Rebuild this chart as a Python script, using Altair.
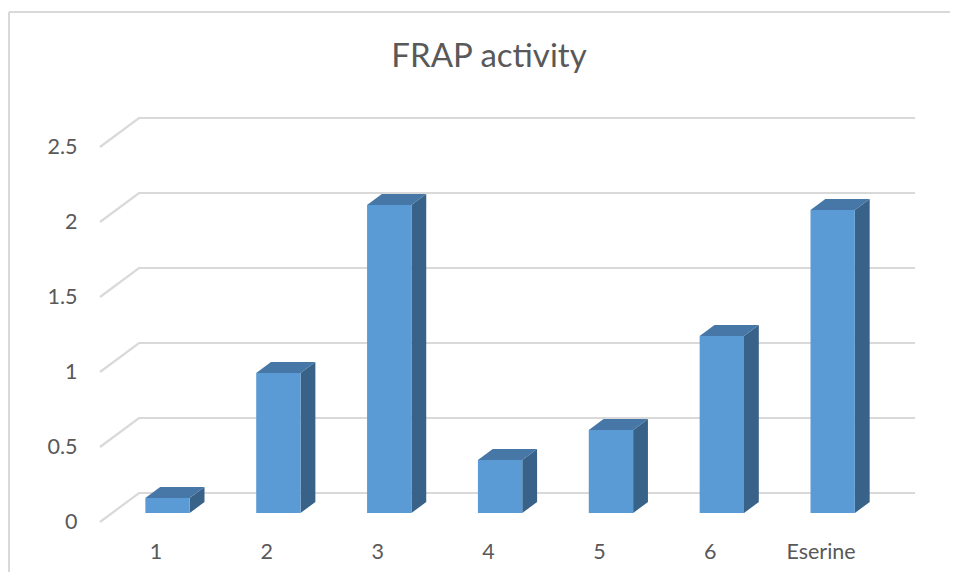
import altair as alt
import pandas as pd

CATEGORIES = ["1", "2", "3", "4", "5", "6", "Eserine"]
VALUES = [0.10, 0.933, 2.053, 0.353, 0.553, 1.18, 2.02]
TICKS = [0, 0.5, 1, 1.5, 2, 2.5]

# projection of the fake 3D box, in axis units
DEPTH_X = 0.3518
DEPTH_Y = 0.1933
BAR_NEAR = 0.31
BAR_FAR = 0.69
HALF = 0.2
XMIN, XMAX = -0.3298, 8.1673
YMIN, YMAX = -0.3333, 3.4267

FONT = "Lato"
TEXT = "#595959"

positions = list(range(1, len(CATEGORIES) + 1))
label_expr = "[" + ",".join(f"'{c}'" for c in CATEGORIES) + "][datum.value-1]"

xs = alt.Scale(domain=[XMIN, XMAX], range=[0, 942], nice=False, zero=False)
ys = alt.Scale(domain=[YMIN, YMAX], range=[564, 0], nice=False, zero=False)
x_axis = alt.Axis(
    values=positions, labelExpr=label_expr, grid=False, domain=False, ticks=False,
    orient="bottom", offset=-31, labelPadding=0, labelFont=FONT, labelFontSize=21.5,
    labelColor=TEXT, labelAngle=0, labelOverlap=False, labelBound=False, labelFlush=False)
y_axis = alt.Axis(
    values=TICKS, grid=False, domain=False, ticks=False, orient="left", offset=-69,
    labelPadding=0, labelFont=FONT, labelFontSize=21.5, labelColor=TEXT, labelOffset=0.5,
    labelOverlap=False, labelBound=False, labelFlush=False, format="~g")
X = alt.X("x:Q", scale=xs, title=None, axis=x_axis)
Y = alt.Y("y:Q", scale=ys, title=None, axis=y_axis)

grid = pd.DataFrame(
    [r for t in TICKS for r in (
        {"t": t, "o": 0, "x": 0.5, "y": t},
        {"t": t, "o": 1, "x": 0.5 + DEPTH_X, "y": t + DEPTH_Y},
        {"t": t, "o": 2, "x": 7.5 + DEPTH_X, "y": t + DEPTH_Y},
    )]
)

side, top, front = [], [], []
for p, v in zip(positions, VALUES):
    l = p - HALF + BAR_NEAR * DEPTH_X
    r = p + HALF + BAR_NEAR * DEPTH_X
    dx = (BAR_FAR - BAR_NEAR) * DEPTH_X
    y1 = BAR_NEAR * DEPTH_Y
    y2 = BAR_FAR * DEPTH_Y
    front.append({"x": l, "x2": r, "y": v + y1, "y2": y1})
    side += [
        {"c": p, "x": r, "y": v + y1, "y2": y1},
        {"c": p, "x": r + dx, "y": v + y2, "y2": y2},
    ]
    top += [
        {"c": p, "x": l, "y": v + y1, "y2": v + y1},
        {"c": p, "x": l + dx, "y": v + y2, "y2": v + y1},
        {"c": p, "x": r, "y": v + y2, "y2": v + y1},
        {"c": p, "x": r + dx, "y": v + y2, "y2": v + y2},
    ]

grid_layer = alt.Chart(grid).mark_line(color="#d9d9d9", strokeWidth=2.2).encode(
    x=X, y=Y, detail="t:N", order="o:Q"
)
side_layer = alt.Chart(pd.DataFrame(side)).mark_area(
    color="#386288", orient="vertical", interpolate="linear"
).encode(x=X, y=Y, y2="y2:Q", detail="c:N")
top_layer = alt.Chart(pd.DataFrame(top)).mark_area(
    color="#4677A6", orient="vertical", interpolate="linear"
).encode(x=X, y=Y, y2="y2:Q", detail="c:N")
front_layer = alt.Chart(pd.DataFrame(front)).mark_rect(color="#5B9BD5").encode(
    x=X, x2="x2:Q", y=Y, y2="y2:Q"
)

frame_left = alt.Chart(pd.DataFrame({"a": [0]})).mark_rule(color="#d9d9d9", strokeWidth=2).encode(
    x=alt.value(1), y=alt.value(4), y2=alt.value(564)
)
frame_top = alt.Chart(pd.DataFrame({"a": [0]})).mark_rule(color="#d9d9d9", strokeWidth=2).encode(
    x=alt.value(1), x2=alt.value(942), y=alt.value(4)
)

chart = alt.layer(
    grid_layer, side_layer, top_layer, front_layer, frame_left, frame_top
).properties(
    width=942,
    height=564,
    autosize=alt.AutoSizeParams(type="none"),
    padding=0,
    background="white",
    title=alt.TitleParams(
        "FRAP activity", font=FONT, fontSize=33, fontWeight="normal", color=TEXT,
        anchor="middle", dx=10, dy=33, offset=-59, baseline="alphabetic",
    ),
).configure_view(stroke=None)

chart.save("out.html", embed_options={"renderer": "svg", "actions": False})
